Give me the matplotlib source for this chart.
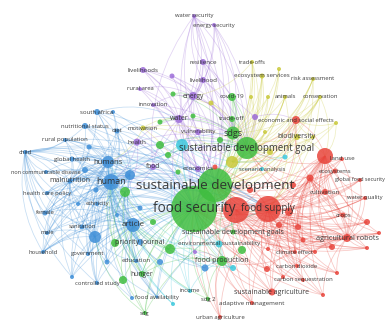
import matplotlib.pyplot as plt
from matplotlib.patches import Circle, PathPatch
from matplotlib.path import Path
import numpy as np

# cluster colours
colors = {
    'red': '#e8453c',
    'green': '#3fbd3f',
    'blue': '#3f8fd8',
    'yellow': '#c9c93a',
    'purple': '#9c6cd8',
    'cyan': '#3cc8dc',
}

# nodes: id, layout x, layout y, cluster, radius
node_id = [
    # purple
    'water security', 'energy security', 'livelihoods', 'rural area', 'innovation',
    'energy', 'livelihood', 'resilience', 'p1', 'water', 'vulnerability', 'health',
    'food', 'economics', 'p2', 'p3',
    # yellow
    'trade-offs', 'ecosystem services', 'risk assessment', 'animals', 'conservation',
    'y1', 'y2', 'y3', 'y4', 'y6', 'biodiversity', 'motivation', 'y7', 'y8', 'y9', 'y10',
    # green
    'covid-19', 'trade-off', 'sdgs', 'sustainable development goal',
    'sustainable development', 'food security', 'sustainable development goals',
    'g1', 'g2', 'g3', 'g4', 'g5', 'g6', 'g7', 'g8', 'food production', 'hunger',
    'g9', 'g10', 'g11', 'sdg 2', 'sdg', 'g12', 'g13',
    # blue
    'south africa', 'nutritional status', 'diet', 'rural population', 'child',
    'global health', 'humans', 'non communicable disease', 'malnutrition', 'human',
    'health care policy', 'ethnicity', 'female', 'sanitation', 'male', 'household',
    'government', 'controlled study', 'article', 'priority journal', 'education',
    'food availability', 'b0', 'b1', 'b2', 'b3', 'b4', 'b5', 'b6', 'b7', 'b8', 'b9',
    'b10', 'b11', 'b12', 'b13',
    # cyan
    'c1', 'environmental sustainability', 'c3', 'c4', 'c5', 'income', 'scenario analysis',
    # red
    'economic and social effects', 'land use', 'r0', 'ecosystems', 'global food security',
    'cultivation', 'water quality', 'crops', 'agricultural robots', 'climate effect',
    'carbon dioxide', 'carbon sequestration', 'sustainable agriculture',
    'adaptive management', 'urban agriculture', 'food supply', 'r1', 'r2', 'r3', 'r4',
    'r5', 'r6', 'r7', 'r8', 'r9', 'r10', 'r11', 'r12', 'r13', 'r14', 'r15', 'r16',
    'r17', 'r18', 'r19',
]
node_x = [
    194, 214, 143, 140, 153, 193, 203, 203, 172, 179, 198, 137, 153, 198, 255, 195,
    252, 262, 313, 285, 320, 279, 251, 268, 211, 336, 297, 143, 232, 265, 313, 270,
    232, 232, 233, 247, 215, 194, 233, 160, 168, 125, 178, 173, 160, 193, 170, 222,
    142, 242, 123, 153, 208, 145, 220, 115,
    97, 85, 117, 65, 25, 72, 108, 46, 70, 111, 47, 97, 45, 82, 47, 43, 88, 97, 133,
    140, 136, 157, 132, 95, 72, 107, 205, 130, 113, 89, 85, 96, 78, 160, 140, 117,
    182, 219, 233, 173, 285, 190, 262,
    296, 342, 325, 335, 360, 325, 365, 343, 347, 295, 297, 303, 272, 252, 220, 268,
    236, 215, 367, 379, 332, 367, 267, 337, 323, 268, 303, 298, 279, 315, 283, 310,
    293, 250, 289,
]
node_y = [
    16, 25, 70, 89, 105, 96, 80, 62, 76, 119, 132, 142, 167, 169, 117, 252,
    62, 76, 79, 97, 97, 69, 97, 97, 103, 123, 137, 128, 162, 132, 137, 152,
    97, 119, 133, 148, 185, 209, 232, 145, 155, 192, 172, 94, 122, 116, 249, 261,
    274, 250, 280, 222, 299, 313, 140, 243,
    112, 126, 131, 140, 152, 159, 162, 172, 181, 182, 193, 204, 213, 227, 233, 252,
    254, 283, 225, 242, 261, 297, 298, 237, 277, 262, 268, 175, 112, 147, 170, 190,
    204, 262, 208, 215,
    145, 244, 268, 304, 157, 291, 169,
    120, 159, 156, 171, 180, 192, 198, 215, 238, 252, 266, 280, 292, 303, 317, 209,
    210, 167, 222, 233, 247, 248, 269, 273, 295, 249, 240, 227, 225, 252, 277, 178,
    185, 190, 212,
]
node_group = (['purple'] * 16 + ['yellow'] * 16 + ['green'] * 24 + ['blue'] * 36
              + ['cyan'] * 7 + ['red'] * 35)
node_radius = [
    2, 2, 3, 2, 2, 4, 3, 3, 2.5, 4, 3, 3.5, 3, 3, 3, 2,
    2, 2.5, 2, 2, 2, 2, 2, 2, 2.5, 2, 3, 2.5, 6, 2, 2, 3,
    4, 3, 6.5, 11, 17, 23, 2.5, 4, 3, 5, 2.5, 2.5, 2.5, 2.5, 5, 5, 3, 4, 4, 3, 2, 2, 3, 4,
    3, 3, 2.5, 2, 2, 2.5, 6, 2, 2.5, 8, 2, 2, 2.5, 2.5, 2, 2, 2, 2, 7, 3, 2, 1.5, 2,
    6, 2, 2.5, 3.5, 5, 2, 2.5, 3, 2.5, 2, 3, 2.5, 2,
    6, 3.5, 3, 2, 2.5, 2, 2,
    4, 2, 8, 2.5, 2, 3, 2, 2.5, 4, 2, 2, 2, 3.5, 2, 2, 13, 13, 2.5, 3, 2, 3, 2, 3, 2,
    2, 2, 2.5, 3, 3, 2, 2, 3.5, 3, 3, 4,
]
label_size = {
    'water security': 4.2, 'energy security': 4.2, 'livelihoods': 4.5, 'rural area': 4.2,
    'innovation': 4.2, 'energy': 4.8, 'livelihood': 4.5, 'resilience': 4.5, 'water': 5,
    'vulnerability': 4.3, 'health': 4.6, 'food': 4.8, 'economics': 4.5,
    'trade-offs': 4.2, 'ecosystem services': 4.5, 'risk assessment': 4.2, 'animals': 4.2,
    'conservation': 4.2, 'biodiversity': 5, 'motivation': 4.3,
    'covid-19': 4.5, 'trade-off': 4.5, 'sdgs': 6.5, 'sustainable development goal': 6.9,
    'sustainable development': 9.7, 'food security': 9.8, 'sustainable development goals': 5,
    'food production': 5, 'hunger': 4.8, 'sdg 2': 4.2, 'sdg': 4.2,
    'south africa': 4.3, 'nutritional status': 4.3, 'diet': 4.3, 'rural population': 4.3,
    'child': 4.3, 'global health': 4.3, 'humans': 5.6, 'non communicable disease': 4,
    'malnutrition': 5, 'human': 6.5, 'health care policy': 4.2, 'ethnicity': 4.2,
    'female': 4.2, 'sanitation': 4.2, 'male': 4.2, 'household': 4.2, 'government': 4.2,
    'controlled study': 4.2, 'article': 5.8, 'priority journal': 5, 'education': 4.5,
    'food availability': 4.3, 'environmental sustainability': 4.5, 'income': 4.2,
    'scenario analysis': 4.2, 'economic and social effects': 4.2, 'land use': 4.5,
    'ecosystems': 4.3, 'global food security': 4.0, 'cultivation': 4.5,
    'water quality': 4.2, 'crops': 4.3, 'agricultural robots': 5.2, 'climate effect': 4.2,
    'carbon dioxide': 4.2, 'carbon sequestration': 4.2, 'sustainable agriculture': 5,
    'adaptive management': 4.5, 'urban agriculture': 4.3, 'food supply': 7,
}

# co-occurrence links, listed from each hub term
links = {
    'food security': [
        'humans', 'human', 'article', 'malnutrition', 'child', 'global health',
        'south africa', 'nutritional status', 'household', 'female', 'sanitation',
        'controlled study', 'food availability', 'hunger', 'sdg', 'income', 'sdg 2',
        'urban agriculture', 'adaptive management', 'sustainable agriculture',
        'climate effect', 'carbon sequestration', 'water', 'energy', 'livelihoods',
        'rural area', 'innovation', 'resilience', 'water security', 'energy security',
        'covid-19', 'animals', 'conservation', 'risk assessment',
        'economic and social effects', 'land use', 'agricultural robots', 'crops',
        'global food security', 'water quality', 'biodiversity', 'trade-offs',
        'ecosystem services', 'health care policy', 'government', 'male',
        'non communicable disease', 'rural population', 'diet', 'health', 'food',
        'economics', 'priority journal', 'education', 'environmental sustainability',
        'food production', 'b1', 'b2', 'b3', 'r3', 'r5', 'r7', 'r9', 'c4', 'g10',
        'livelihood', 'vulnerability', 'motivation', 'ecosystems', 'cultivation',
        'ethnicity', 'b10', 'b9', 'b7', 'b6', 'g8', 'g11', 'g13', 'c3', 'r6', 'r4',
    ],
    'sustainable development': [
        'water security', 'energy security', 'livelihoods', 'energy', 'resilience',
        'water', 'trade-offs', 'ecosystem services', 'risk assessment', 'animals',
        'conservation', 'y1', 'y6', 'biodiversity', 'covid-19', 'trade-off',
        'economic and social effects', 'land use', 'r0', 'ecosystems', 'cultivation',
        'crops', 'agricultural robots', 'climate effect', 'carbon dioxide',
        'sustainable agriculture', 'adaptive management', 'urban agriculture',
        'humans', 'human', 'child', 'south africa', 'rural population', 'article',
        'hunger', 'sdg 2', 'income', 'r4', 'r6', 'r8', 'global food security',
        'water quality', 'innovation', 'health', 'p2', 'y8', 'y9', 'rural area',
        'livelihood', 'nutritional status', 'global health', 'malnutrition', 'female',
        'household', 'sdg', 'food availability', 'carbon sequestration', 'r3', 'r5',
    ],
    'food supply': [
        'land use', 'r0', 'ecosystems', 'global food security', 'cultivation',
        'water quality', 'crops', 'agricultural robots', 'climate effect',
        'carbon dioxide', 'carbon sequestration', 'sustainable agriculture',
        'adaptive management', 'urban agriculture', 'r2', 'r3', 'r4', 'r5', 'r6', 'r7',
        'r8', 'r9', 'r10', 'r11', 'r12', 'r13', 'r14', 'r15', 'r16', 'r17', 'r18',
        'economic and social effects', 'human', 'article', 'humans', 'child', 'female',
        'household', 'animals', 'conservation', 'biodiversity', 'risk assessment',
        'malnutrition', 'global health', 'sdg', 'hunger', 'food availability',
    ],
    'r1': [
        'r0', 'crops', 'agricultural robots', 'r3', 'r5', 'r7', 'r9', 'r11', 'r16',
        'sustainable agriculture', 'climate effect', 'global food security', 'humans',
        'malnutrition', 'sanitation', 'economic and social effects', 'water quality',
        'r4', 'r6', 'r8', 'adaptive management', 'urban agriculture', 'r14', 'r15',
    ],
    'r0': [
        'ecosystems', 'global food security', 'cultivation', 'water quality', 'crops',
        'agricultural robots', 'r3', 'r4', 'r5', 'r6', 'r8', 'r16', 'r17', 'r12',
        'carbon sequestration', 'climate effect', 'economic and social effects',
        'biodiversity', 'y6', 'conservation', 'r9', 'r14', 'sustainable agriculture',
        'carbon dioxide', 'r19', 'r11',
    ],
    'agricultural robots': [
        'r3', 'r4', 'r5', 'r6', 'r8', 'r9', 'r11', 'r14', 'crops', 'cultivation',
        'carbon dioxide', 'sustainable agriculture', 'r7', 'r13', 'water quality',
        'global food security', 'ecosystems', 'land use', 'r16', 'r12',
    ],
    'r16': [
        'crops', 'r3', 'r4', 'r5', 'r6', 'cultivation', 'water quality', 'r11', 'r12',
        'climate effect', 'r19', 'ecosystems',
    ],
    'r19': [
        'crops', 'r5', 'r8', 'r9', 'r10', 'r14', 'r15', 'carbon dioxide',
        'carbon sequestration', 'adaptive management', 'sustainable agriculture',
    ],
    'sustainable development goal': [
        'water security', 'energy security', 'energy', 'livelihood', 'resilience', 'p1',
        'water', 'vulnerability', 'trade-offs', 'ecosystem services', 'risk assessment',
        'animals', 'conservation', 'y1', 'y2', 'y3', 'y4', 'y6', 'biodiversity',
        'covid-19', 'trade-off', 'sdgs', 'g1', 'g2', 'g7', 'g12', 'y8', 'y9', 'y10',
        'c5', 'economic and social effects', 'land use', 'human', 'humans',
        'food production', 'sustainable development goals', 'motivation', 'p2',
        'livelihoods', 'innovation', 'health', 'food', 'economics', 'crops',
        'agricultural robots', 'r16', 'r17',
    ],
    'sdgs': [
        'covid-19', 'trade-off', 'energy', 'water', 'livelihood', 'y2', 'y3', 'y4',
        'ecosystem services', 'trade-offs', 'animals', 'biodiversity', 'g6', 'g5',
        'human', 'food production', 'g9', 'resilience', 'energy security', 'y1',
        'conservation', 'vulnerability',
    ],
    'y7': [
        'trade-offs', 'ecosystem services', 'risk assessment', 'animals', 'conservation',
        'y1', 'y3', 'y8', 'y9', 'y10', 'biodiversity', 'covid-19', 'motivation',
    ],
    'human': [
        'south africa', 'nutritional status', 'diet', 'rural population', 'child',
        'global health', 'humans', 'non communicable disease', 'malnutrition',
        'health care policy', 'ethnicity', 'female', 'sanitation', 'male', 'household',
        'government', 'controlled study', 'article', 'priority journal', 'education',
        'food availability', 'b0', 'b1', 'b2', 'b3', 'b4', 'b5', 'b6', 'b7', 'b8', 'b9',
        'b10', 'b11', 'b12', 'b13', 'health', 'hunger', 'income', 'c1', 'c3',
        'water', 'food', 'g3', 'sdg', 'c4', 'g8', 'g13',
    ],
    'humans': [
        'south africa', 'nutritional status', 'rural population', 'child',
        'global health', 'non communicable disease', 'malnutrition',
        'health care policy', 'female', 'sanitation', 'male', 'household', 'government',
        'controlled study', 'article', 'b1', 'b2', 'b4', 'b6', 'b7', 'c1', 'c3', 'c4',
        'health', 'motivation', 'environmental sustainability', 'diet', 'ethnicity',
        'b9', 'b10', 'b13', 'priority journal', 'food availability',
    ],
    'b5': [
        'south africa', 'nutritional status', 'diet', 'rural population', 'child',
        'global health', 'malnutrition', 'health care policy', 'ethnicity', 'female',
        'sanitation', 'male', 'household', 'government', 'b1', 'b3', 'b8', 'b9', 'b12',
        'priority journal', 'education', 'food availability', 'controlled study',
    ],
    'malnutrition': [
        'child', 'global health', 'rural population', 'nutritional status',
        'south africa', 'household', 'female', 'male', 'sanitation',
        'health care policy', 'non communicable disease', 'b7', 'b8', 'b9', 'b10',
        'government', 'diet', 'article', 'b1', 'b2',
    ],
    'child': [
        'household', 'female', 'male', 'health care policy', 'rural population',
        'nutritional status', 'global health', 'non communicable disease', 'b10',
        'sanitation', 'controlled study', 'b2', 'government',
    ],
    'article': [
        'child', 'female', 'male', 'household', 'government', 'controlled study',
        'sanitation', 'b1', 'b2', 'b3', 'b10', 'priority journal', 'education', 'hunger',
        'food availability', 'g8', 'g10', 'g13', 'c3', 'c4', 'income', 'sdg', 'b4',
        'environmental sustainability', 'food production', 'ethnicity',
        'health care policy', 'global health', 'b11', 'b0', 'sdg 2',
    ],
    'b1': [
        'child', 'household', 'female', 'male', 'government', 'controlled study',
        'b2', 'health care policy', 'rural population', 'ethnicity', 'food availability',
        'sanitation', 'b3', 'b0', 'education', 'sdg',
    ],
    'g3': [
        'article', 'priority journal', 'b3', 'b12', 'b13', 'food', 'health', 'g11',
        'g13', 'hunger', 'education', 'malnutrition',
    ],
    'energy': [
        'water security', 'energy security', 'livelihoods', 'rural area', 'innovation',
        'livelihood', 'resilience', 'p1', 'water', 'vulnerability', 'economics',
        'trade-offs', 'y4', 'g5',
    ],
    'water': [
        'water security', 'livelihoods', 'rural area', 'innovation', 'health', 'food',
        'economics', 'vulnerability', 'p1', 'motivation', 'diet', 'g6', 'p3',
        'energy security', 'resilience', 'south africa',
    ],
    'water security': [
        'energy security', 'livelihood', 'resilience', 'vulnerability', 'economics',
        'food', 'p2',
    ],
    'c1': [
        'water', 'energy', 'vulnerability', 'economics', 'scenario analysis', 'c5',
        'environmental sustainability', 'c3', 'income', 'g2',
    ],
    'food production': [
        'hunger', 'g8', 'g9', 'sdg 2', 'income', 'urban agriculture',
        'adaptive management', 'environmental sustainability', 'c3', 'b4', 'p3',
        'sustainable agriculture', 'climate effect',
    ],
    'economic and social effects': [
        'y6', 'biodiversity', 'y9', 'conservation', 'risk assessment', 'p2', 'r16',
    ],
}

xy = {n: (x, y) for n, x, y in zip(node_id, node_x, node_y)}
grp = dict(zip(node_id, node_group))

fig = plt.figure(figsize=(3.87, 3.2), dpi=100)
ax = fig.add_axes([0, 0, 1, 1])
ax.set_xlim(0, 387)
ax.set_ylim(320, 0)
ax.axis('off')

# curved links, coloured by the non-hub end
for hub, others in links.items():
    for other in others:
        (x0, y0), (x1, y1) = xy[hub], xy[other]
        mx, my = (x0 + x1) / 2, (y0 + y1) / 2
        dx, dy = x1 - x0, y1 - y0
        cx, cy = mx - 0.2 * dy, my + 0.2 * dx
        path = Path([(x0, y0), (cx, cy), (x1, y1)],
                    [Path.MOVETO, Path.CURVE3, Path.CURVE3])
        ax.add_patch(PathPatch(path, fc='none', ec=colors[grp[other]],
                               lw=0.55, alpha=0.3, zorder=1))

# nodes, smallest on top
order = np.argsort(node_radius)[::-1]
for i in order:
    ax.add_patch(Circle((node_x[i], node_y[i]), node_radius[i],
                        fc=colors[node_group[i]], ec='none', alpha=0.85, zorder=2))

for n, s in label_size.items():
    x, y = xy[n]
    ax.text(x, y, n, fontsize=s, family='Open Sans', color='#2a2a2a', alpha=0.9,
            ha='center', va='center', zorder=3)

fig.savefig('out.png', dpi=100, facecolor='white')
